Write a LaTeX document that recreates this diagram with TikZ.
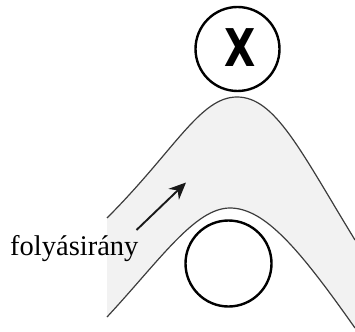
\documentclass[tikz,border=0pt]{standalone}
\usepackage{fontspec}
\setmainfont{Liberation Serif}
\newfontfamily\xfont{DejaVu Sans}
\usetikzlibrary{arrows.meta}
\definecolor{bandfill}{RGB}{242,242,242}
\definecolor{bandline}{RGB}{60,60,60}
\begin{document}
\begin{tikzpicture}[x=1pt,y=-1pt,
  ring/.style={circle, draw=black, line width=2.4pt, inner sep=0pt, minimum size=#1},
  edge/.style={draw=bandline, line width=1.2pt},
  flow/.style={draw=black!90, line width=1.9pt, -{Stealth[length=17pt,width=15pt]}}]
\useasboundingbox (0,0) rectangle (355,331);
% band
\fill[bandfill] (107,218) .. controls (175,150) and (200,97) .. (237,97)
  .. controls (275,97) and (300,150) .. (355,240)
  -- (355,328) .. controls (300,250) and (265,208) .. (230,208)
  .. controls (195,208) and (160,260) .. (107,317) -- cycle;
\draw[edge] (107,218) .. controls (175,150) and (200,97) .. (237,97)
  .. controls (275,97) and (300,150) .. (355,240);
\draw[edge] (107,317) .. controls (160,260) and (195,208) .. (230,208)
  .. controls (265,208) and (300,250) .. (355,328);
% circles
\node[ring=84pt] (top) at (237.5,49) {};
\node[font=\xfont\bfseries\fontsize{52}{52}\selectfont, inner sep=0pt, xscale=0.78] (x) at (240,47.5) {X};
\node[ring=86pt] (bottom) at (228.5,263.5) {};
% arrow
\coordinate (a1) at (136.5,230);
\coordinate (a2) at (186,182.5);
\draw[flow] (a1) -- (a2);
% label
\node[font=\fontsize{28.5}{28.5}\selectfont, anchor=base west, inner sep=0pt] (lbl) at (10,255) {folyásirány};
\end{tikzpicture}
\end{document}
